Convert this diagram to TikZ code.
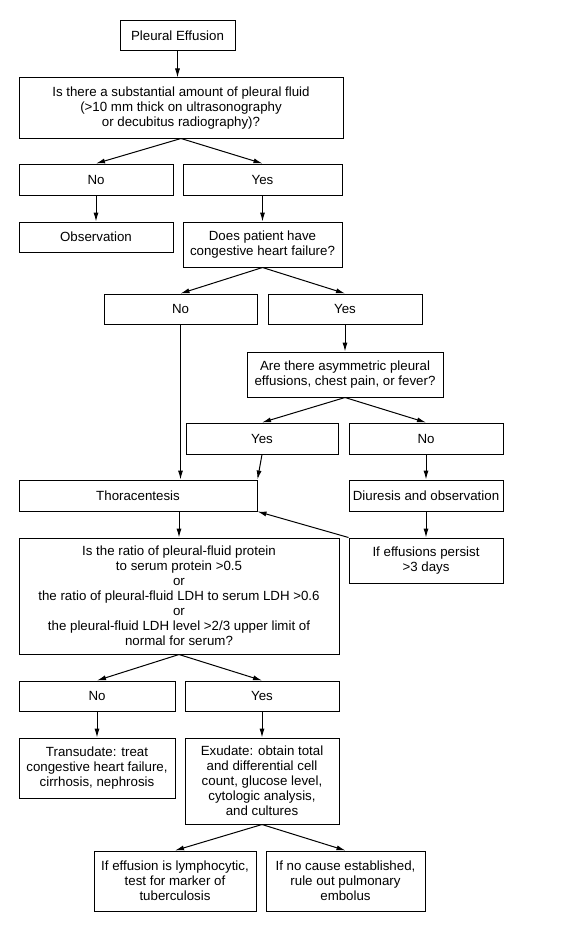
\documentclass[tikz,border=0pt]{standalone}
\usepackage{fontspec}
\setmainfont{Liberation Sans}
\usepackage{tikz}
\usetikzlibrary{arrows.meta}

\begin{document}
\begin{tikzpicture}[>={Latex[length=9pt,width=5pt]}, x=1pt, y=-1pt, line width=1pt,
  every node/.style={draw, align=center, inner sep=1pt, font=\fontsize{13.3}{15}\selectfont}]
  \useasboundingbox (0,0) rectangle (565,931);

  \node [minimum width=115, minimum height=30] (PE) at (177.5,36) {Pleural Effusion};
  \node [minimum width=324, minimum height=60] (Q1) at (181,108) {Is there a substantial amount of pleural fluid\\(>10 mm thick on ultrasonography\\or decubitus radiography)?};
  \node [minimum width=154, minimum height=31] (N1) at (96,179.5) {No};
  \node [minimum width=159, minimum height=31] (Y1) at (262.5,179.5) {Yes};
  \node [minimum width=154, minimum height=30] (Obs) at (96,237) {Observation};
  \node [minimum width=159, minimum height=45] (Q2) at (262.5,244.5) {Does patient have\\congestive heart failure?};
  \node [minimum width=153, minimum height=30] (N2) at (180.5,309) {No};
  \node [minimum width=154, minimum height=30] (Y2) at (345,309) {Yes};
  \node [minimum width=196, minimum height=45] (Q3) at (345,374.5) {Are there asymmetric pleural\\effusions, chest pain, or fever?};
  \node [minimum width=152, minimum height=31] (Y3) at (262,438.5) {Yes};
  \node [minimum width=154, minimum height=31] (N3) at (426,438.5) {No};
  \node [minimum width=238, minimum height=31] (Tho) at (138,495.5) {Thoracentesis};
  \node [minimum width=154, minimum height=31] (Diu) at (426,495.5) {Diuresis and observation};
  \node [minimum width=320, minimum height=116] (Q4) at (179,596) {Is the ratio of pleural-fluid protein\\to serum protein >0.5\\or\\the ratio of pleural-fluid LDH to serum LDH >0.6\\or\\the pleural-fluid LDH level >2/3 upper limit of\\normal for serum?};
  \node [minimum width=154, minimum height=45] (Per) at (426,560.5) {If effusions persist\\>3 days};
  \node [minimum width=156, minimum height=30] (N4) at (97,696) {No};
  \node [minimum width=154, minimum height=30] (Y4) at (262,696) {Yes};
  \node [minimum width=156, minimum height=60] (Tra) at (97,768) {Transudate: treat\\congestive heart failure,\\cirrhosis, nephrosis};
  \node [minimum width=154, minimum height=86] (Exu) at (262,781) {Exudate: obtain total\\and differential cell\\count, glucose level,\\cytologic analysis,\\and cultures};
  \node [minimum width=162, minimum height=60] (Lym) at (175,881) {If effusion is lymphocytic,\\test for marker of\\tuberculosis};
  \node [minimum width=159, minimum height=60] (Emb) at (345.5,881) {If no cause established,\\rule out pulmonary\\embolus};

  \draw [->] (PE) -- (PE.south |- Q1.north);
  \draw [->] (Q1.south) -- (N1.north);
  \draw [->] (Q1.south) -- (Y1.north);
  \draw [->] (N1) -- (Obs);
  \draw [->] (Y1) -- (Q2);
  \draw [->] (Q2.south) -- (N2.north);
  \draw [->] (Q2.south) -- (Y2.north);
  \draw [->] (N2.south) -- (N2.south |- Tho.north);
  \draw [->] (Y2) -- (Q3);
  \draw [->] (Q3.south) -- (Y3.north);
  \draw [->] (Q3.south) -- (N3.north);
  \draw [->] (Y3.south) -- (Tho.north east);
  \draw [->] (N3) -- (Diu);
  \draw [->] (Diu) -- (Per);
  \draw [->] (Per.north west) -- (Tho.south east);
  \draw [->] (Q4.north |- Tho.south) -- (Q4.north);
  \draw [->] (Q4.south) -- (N4.north);
  \draw [->] (Q4.south) -- (Y4.north);
  \draw [->] (N4) -- (Tra);
  \draw [->] (Y4) -- (Exu);
  \draw [->] (Exu.south) -- (Lym.north);
  \draw [->] (Exu.south) -- (Emb.north);
\end{tikzpicture}
\end{document}
